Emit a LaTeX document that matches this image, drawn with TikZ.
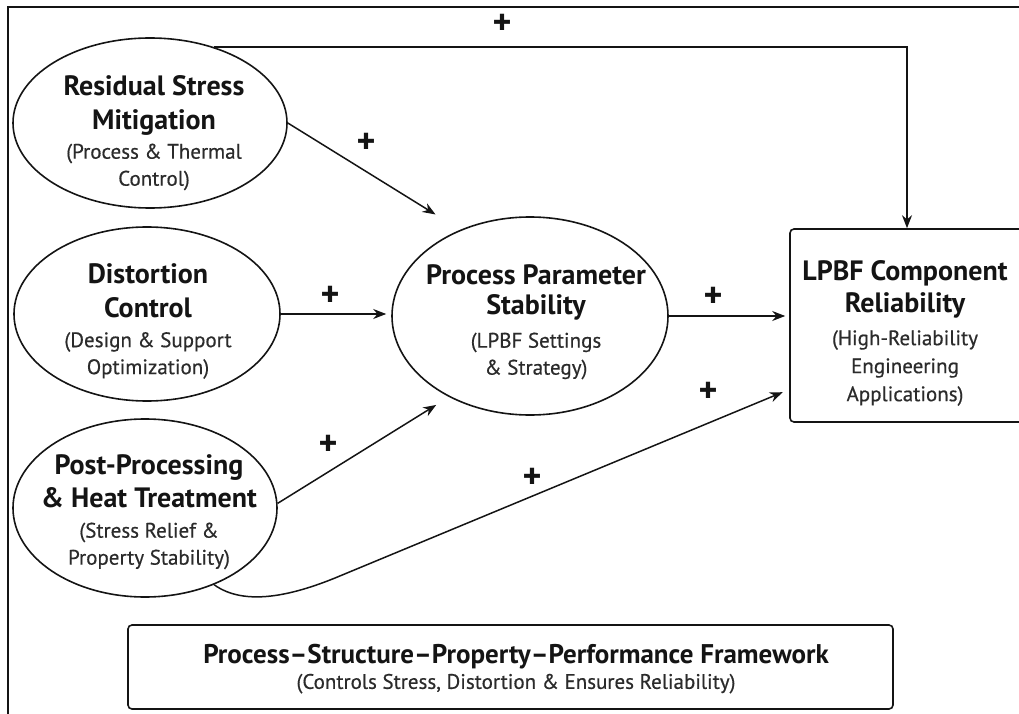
\documentclass[tikz,border=0pt]{standalone}
\usepackage{fontspec}
\setmainfont{PT Sans}
\newfontfamily\subfont{PT Sans}[FakeBold=0.5]
\usetikzlibrary{shapes.geometric,arrows.meta,calc}

\definecolor{ink}{HTML}{141414}
\definecolor{subink}{HTML}{2B2B2B}

% heading and sub-heading lines inside the shapes
\newcommand\headtxt[1]{{\fontsize{28}{28}\selectfont\bfseries #1}}
\newcommand\subtxt[1]{{\fontsize{21}{27}\subfont\color{subink}#1}}

\begin{document}
\begin{tikzpicture}[x=1pt,y=-1pt,
  ell/.style={ellipse, draw=ink, line width=1.6pt, inner sep=0pt},
  boxshape/.style={rectangle, rounded corners=4pt, draw=ink, line width=1.6pt, inner sep=0pt},
  lbl/.style={align=center, text=ink, inner sep=0pt, font=\fontsize{21}{27}\selectfont},
  link/.style={draw=ink, line width=1.5pt, -{Stealth[length=13pt,width=10pt]}},
  plus/.style={text=ink, inner sep=0pt, font=\fontsize{36}{36}\selectfont\bfseries}]

\useasboundingbox (0,0) rectangle (1019,714);

% outer frame (only its top and left sides fall inside the page)
\draw[ink, line width=1.6pt] (8,716) -- (8,7) -- (1021,7);

% shapes
\node[ell, minimum width=274pt, minimum height=170pt] (e1) at (150,123) {};
\node[ell, minimum width=266pt, minimum height=174pt] (e2) at (147,314) {};
\node[ell, minimum width=264pt, minimum height=178pt] (e3) at (145,508) {};
\node[ell, minimum width=276pt, minimum height=198pt] (pps) at (530,316) {};
\node[boxshape, minimum width=234pt, minimum height=193pt] (lpbf) at (907,325.5) {};
\node[boxshape, minimum width=765pt, minimum height=84pt] (frame) at (510.5,667) {};

% texts
\node[lbl] (e1t) at (154,133) {\headtxt{Residual Stress}\\[7pt]\headtxt{Mitigation}\\[2pt]
  \subtxt{(Process \& Thermal}\\\subtxt{Control)}};
\node[lbl] (e2t) at (148,321) {\headtxt{Distortion}\\[7pt]\headtxt{Control}\\[3pt]
  \subtxt{(Design \& Support}\\\subtxt{Optimization)}};
\node[lbl] (e3t) at (149,512) {\headtxt{Post-Processing}\\[6pt]\headtxt{\& Heat Treatment}\\[3pt]
  \subtxt{(Stress Relief \&}\\\subtxt{Property Stability)}};
\node[lbl] (ppst) at (536,322) {\headtxt{Process Parameter}\\[3pt]\headtxt{Stability}\\[6pt]
  \subtxt{(LPBF Settings}\\\subtxt{\& Strategy)}};
\node[lbl] (lpbft) at (905,333) {\headtxt{LPBF Component}\\[5pt]\headtxt{Reliability}\\[6pt]
  \subtxt{(High-Reliability}\\[1pt]\subtxt{Engineering}\\[1pt]\subtxt{Applications)}};
\node[lbl] (framet) at (516,669) {{\fontsize{27}{27}\selectfont\bfseries Process–Structure–Property–Performance Framework}\\[-2pt]
  \subtxt{(Controls Stress, Distortion \& Ensures Reliability)}};

% connectors
\draw[link] (e1.50) -| (lpbf.north);
\draw[link, shorten >=29pt] (e1.east) -- (pps.129);
\draw[link, shorten >=5pt] (e2.east) -- (e2.east -| pps.west);
\draw[link, shorten >=15pt] (e3.2) -- (pps.225);
\draw[link, shorten >=4pt] (pps.east) -- (pps.east -| lpbf.west);
\draw[link, shorten >=7pt] (e3.-48.5) .. controls (245,607) and (293,595) .. (335,578)
  -- ([yshift=-64pt]lpbf.west);

% signs
\node[plus] (p1) at (502,24) {+};
\node[plus] (p2) at (366,143) {+};
\node[plus] (p3) at (330,296) {+};
\node[plus] (p4) at (713,297) {+};
\node[plus] (p5) at (328,445) {+};
\node[plus] (p6) at (532,478) {+};
\node[plus] (p7) at (708,392) {+};
\end{tikzpicture}
\end{document}
